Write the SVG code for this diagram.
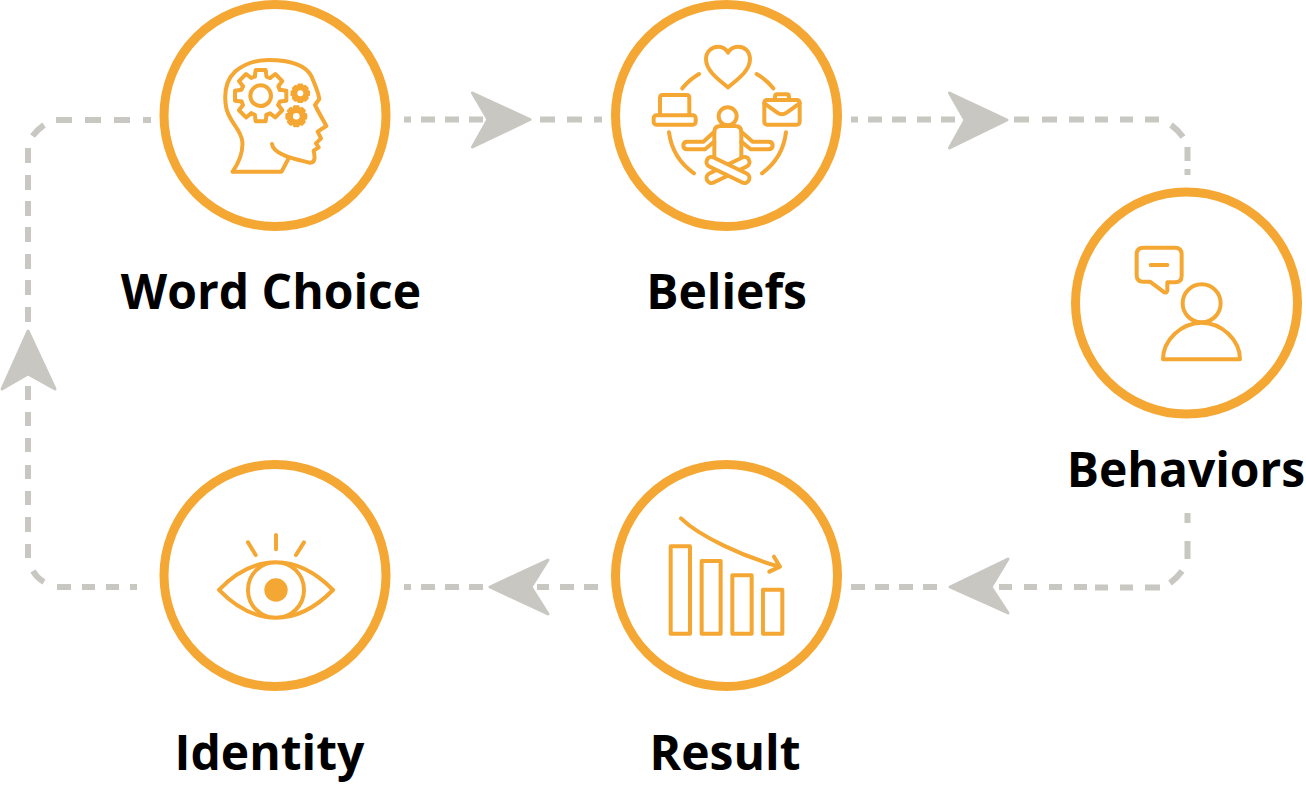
<svg xmlns="http://www.w3.org/2000/svg" width="1306" height="794" viewBox="0 0 1306 794">
<style>
.ring{fill:#fff;stroke:#f5a733;stroke-width:9}
.ic{fill:none;stroke:#f5a733;stroke-width:12;stroke-linecap:round;stroke-linejoin:round}
.lbl{font-family:"Open Sans","Noto Sans",sans-serif;font-weight:700;font-size:48px;fill:#000;text-anchor:middle}
.dash{fill:none;stroke:#c8c7c1;stroke-width:6}
.head{fill:#c8c7c1;stroke:#c8c7c1;stroke-width:3;stroke-linejoin:round}
</style>
<defs>
<g id="gearTeeth">
<path id="tooth" d="M-17.5,-57.4L-15,-77H15L17.5,-57.4L28.2,-53"/>
<use href="#tooth" transform="rotate(45)"/><use href="#tooth" transform="rotate(90)"/><use href="#tooth" transform="rotate(135)"/><use href="#tooth" transform="rotate(180)"/><use href="#tooth" transform="rotate(225)"/><use href="#tooth" transform="rotate(270)"/><use href="#tooth" transform="rotate(315)"/>
</g>
<clipPath id="eyeClip"><path d="M207,405C260,350 320,322 378,322C436,322 495,350 549,405C495,460 436,488 378,488C320,488 260,460 207,405Z"/></clipPath>
</defs>
<g id="connectors">
<path class="dash" d="M404,119.5H411M421,119.5H435M445,119.5H459M469,119.5H483"/>
<path class="dash" d="M540,119.5H555M567,119.5H582M594,119.5H602"/>
<path class="dash" d="M851,119.5H858M868,119.5H882M892,119.5H906M917,119.5H931M941,119.5H955"/>
<path class="dash" d="M1014,119.5H1029M1042,119.5H1057M1069,119.5H1084M1095,119.5H1108M1120,119.5H1133M1145,119.5H1159"/>
<path class="dash" d="M1171,125Q1178,130 1183,137M1187.5,147V161M1187.5,169V175"/>
<path class="dash" d="M1187.5,513V523M1187.5,541V559M1182,571Q1177,578 1170,583"/>
<path class="dash" d="M1160,587.5H1145M1133,587.5H1120M1108,587.5H1095M1087,587H1074M1062,587H1049M1037,587H1024M1012,587H999"/>
<path class="dash" d="M851,587H865M875,587H889M899,587H913M923,587H937"/>
<path class="dash" d="M404,587H411M421,587H435M445,587H459M469,587H483"/>
<path class="dash" d="M537,587H549M560,587H574M584,587H598"/>
<path class="dash" d="M130,587H137M106,587H119M82,587H95M57,587H71"/>
<path class="dash" d="M44,582Q37,578 33,571M28,558Q28,552 28,544M28,532V517M28,505V491M28,479V465M28,452V438M28,426V412M28,400V386"/>
<path class="dash" d="M28,322V307M28,295V280M28,269V254M28,242V227M28,216V201M28,190V175M28,163V148M32.5,136Q37,130 44,125M56,120H72M85,120H101M114,120H130M143,120H151"/>
<path class="head" d="M530,119.5L472.5,93L488,119.5L472.5,147Z"/>
<path class="head" d="M1007,120L949.5,93L965,120L949.5,148Z"/>
<path class="head" d="M950,587L1008,559L991,587L1008,613Z"/>
<path class="head" d="M490,587L548,560L531,587L548,614Z"/>
<path class="head" d="M28,331L2,389L28,374L55,389Z"/>
</g>
<g id="word-choice">
<circle class="ring" cx="275" cy="115.5" r="111"/>
<g class="ic" transform="translate(150 0) scale(.3333)">
<path d="M248,515C265,490 280,460 277,425C273,385 235,365 228,320C222,280 228,240 255,215C285,190 320,180 355,180C410,180 465,190 485,230C495,255 505,275 508,297L495,315C505,335 518,358 529,378L503,395L513,415L498,430L506,442L491,452C495,470 497,490 478,488C440,478 370,465 366,432"/>
<path d="M248,515H395L417,473"/>
<use href="#gearTeeth" transform="translate(332 287)"/>
<circle cx="332" cy="287" r="31"/>
<circle cx="451" cy="280" r="20" fill="#f5a733"/>
<use href="#gearTeeth" transform="translate(451 280) scale(.33)" stroke-width="24"/>
<circle cx="451" cy="280" r="9" fill="#fff" stroke="none"/>
<circle cx="439" cy="349" r="22" fill="#f5a733"/>
<use href="#gearTeeth" transform="translate(439 349) scale(.37)" stroke-width="24"/>
<circle cx="439" cy="349" r="10" fill="#fff" stroke="none"/>
</g>
<text class="lbl" x="271" y="309">Word Choice</text>
</g>
<g id="beliefs">
<circle class="ring" cx="726.5" cy="115.5" r="111"/>
<g class="ic" transform="translate(600 0) scale(.3333)">
<path d="M384,262C350,235 318,210 318,178C318,155 335,140 355,140C368,140 378,147 384,158C390,147 400,140 415,140C435,140 450,155 450,178C450,210 418,235 384,262Z"/>
<path d="M247,265A178,178 0 0 1 297,222M470,222A178,178 0 0 1 520,265M207,397A178,178 0 0 0 282,520M558,397A178,178 0 0 1 486,520"/>
<path d="M180,345V293Q180,285 188,285H260Q268,285 268,293V345"/>
<rect x="161" y="346" width="126" height="28" rx="8"/>
<rect x="493" y="300" width="106" height="74" rx="8"/>
<path d="M493,310L532,338Q546,348 560,338L599,310M525,300V290Q525,283 532,283H560Q567,283 567,290V300"/>
<circle cx="383" cy="349" r="27"/>
<path d="M343,470V395Q343,378 362,378H405Q424,378 424,395V470"/>
<path d="M343,395L310,425H262Q250,425 250,436Q250,448 262,448H315L343,425M424,395L458,425H505Q518,425 518,436Q518,448 505,448H452L424,425"/>
<rect x="-70" y="-15" width="140" height="30" rx="15" transform="translate(384 510) rotate(-26)"/>
<rect x="-70" y="-15" width="140" height="30" rx="15" fill="#fff" transform="translate(384 510) rotate(26)"/>
</g>
<text class="lbl" x="726.5" y="309">Beliefs</text>
</g>
<g id="behaviors">
<circle class="ring" cx="1186.5" cy="303" r="111"/>
<g class="ic" transform="translate(1060 180) scale(.3333)">
<path d="M250,203H345Q365,203 365,223V287Q365,307 345,307H322V332Q318,342 310,335L270,305H250Q230,305 230,285V223Q230,203 250,203Z"/>
<path d="M272,255H322"/>
<circle cx="425" cy="370" r="57"/>
<path d="M309,538C309,480 365,428 425,428C485,428 540,480 540,538Z"/>
</g>
<text class="lbl" x="1186" y="487">Behaviors</text>
</g>
<g id="result">
<circle class="ring" cx="726.5" cy="575.5" r="111"/>
<g class="ic" transform="translate(600 455) scale(.3333)">
<rect x="212" y="274" width="58" height="262"/>
<rect x="305" y="318" width="57" height="218"/>
<rect x="397" y="361" width="58" height="175"/>
<rect x="489" y="404" width="58" height="132"/>
<path d="M243,190C300,245 430,305 538,335M522,305L540,335L508,350"/>
</g>
<text class="lbl" x="725" y="770">Result</text>
</g>
<g id="identity">
<circle class="ring" cx="275" cy="575.5" r="111"/>
<g class="ic" transform="translate(150 455) scale(.3333)">
<path d="M207,405C260,350 320,322 378,322C436,322 495,350 549,405C495,460 436,488 378,488C320,488 260,460 207,405Z"/>
<circle cx="378" cy="405" r="84" clip-path="url(#eyeClip)"/>
<circle cx="378" cy="405" r="35" fill="#f5a733" stroke="none"/>
<path d="M378,240V283M294,262L317,300M462,262L438,300"/>
</g>
<text class="lbl" x="269.5" y="770">Identity</text>
</g>
</svg>
